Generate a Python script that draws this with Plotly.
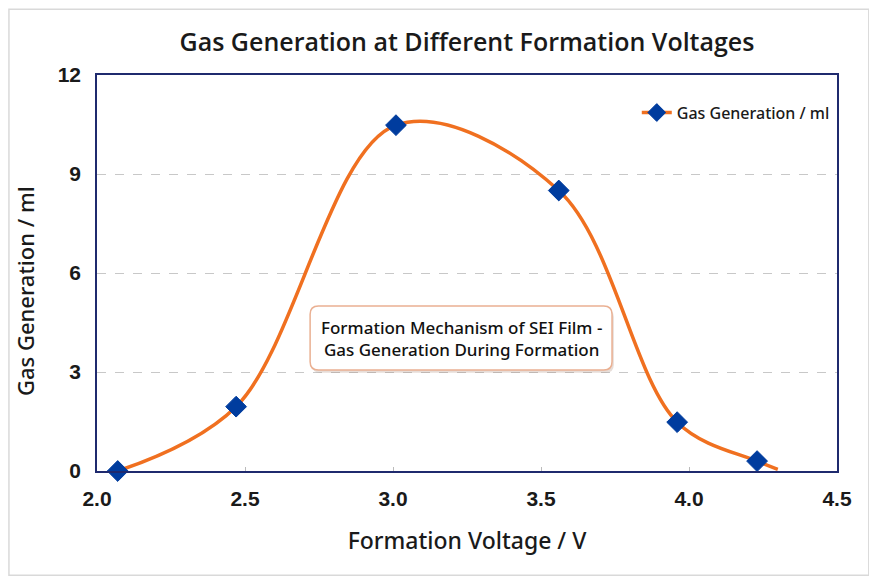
import plotly.graph_objects as go

# data
voltage = [2.07, 2.47, 3.01, 3.56, 3.96, 4.23, 4.30]
gas_ml = [0.0, 1.95, 10.48, 8.5, 1.48, 0.3, 0.05]
marker_sizes = [16, 16, 16, 16, 16, 16, 0]  # line tail has no marker

y_ticks = [0, 3, 6, 9, 12]
x_ticks = [2.0, 2.5, 3.0, 3.5, 4.0, 4.5]

orange = "#f07020"
blue = "#003c9e"
navy = "#1f2a6e"
sans = "Open Sans, Noto Sans, sans-serif"
noto = "Noto Sans, Open Sans, sans-serif"


def rounded_box(x0, y0, x1, y1, rx, ry):
    # svg path for a rectangle with rounded corners in data units
    return (f"M {x0+rx},{y0} L {x1-rx},{y0} Q {x1},{y0} {x1},{y0+ry} "
            f"L {x1},{y1-ry} Q {x1},{y1} {x1-rx},{y1} "
            f"L {x0+rx},{y1} Q {x0},{y1} {x0},{y1-ry} "
            f"L {x0},{y0+ry} Q {x0},{y0} {x0+rx},{y0} Z")


fig = go.Figure()

fig.add_trace(go.Scatter(
    x=voltage,
    y=gas_ml,
    mode="lines+markers",
    name="Gas Generation / ml",
    line=dict(color=orange, width=3.5, shape="spline", smoothing=1.0),
    marker=dict(symbol="diamond", size=marker_sizes, color=blue, opacity=1,
                line=dict(color=blue, width=1)),
    cliponaxis=False,
))

# page body adds an 8px margin, so the figure is sized 8px smaller
fig.update_layout(
    width=869, height=574,
    margin=dict(l=89, r=40, t=67, b=111),
    paper_bgcolor="white",
    plot_bgcolor="white",
    title=dict(
        text="Gas Generation at Different Formation Voltages",
        x=0.5, xref="paper", y=0.94, yanchor="middle",
        font=dict(family=sans, size=25, color="#1a1a1a", weight=600),
    ),
    xaxis=dict(
        range=[2.0, 4.5],
        tickvals=x_ticks,
        ticktext=["%.1f" % v for v in x_ticks],
        tickfont=dict(family="Liberation Sans, Arial", size=21, color="#1a1a1a", weight="bold"),
        ticklabelstandoff=8,
        showgrid=False,
        zeroline=False,
        showline=True, linecolor=navy, linewidth=1.5, mirror=True,
        ticks="inside", ticklen=4, tickcolor="#bbbbbb",
        title=dict(text="Formation Voltage / V", standoff=24,
                   font=dict(family=noto, size=23, color="#1a1a1a", weight=500)),
    ),
    yaxis=dict(
        range=[0, 12],
        tickvals=y_ticks,
        tickfont=dict(family="Liberation Sans, Arial", size=21, color="#1a1a1a", weight="bold"),
        showgrid=True, gridcolor="#c8c8c8", griddash="dash", gridwidth=1,
        zeroline=False,
        showline=True, linecolor=navy, linewidth=1.5, mirror=True,
        ticklabelstandoff=10,
    ),
    legend=dict(
        x=0.997, y=0.905, xanchor="right", yanchor="middle",
        bgcolor="rgba(0,0,0,0)",
        font=dict(family=noto, size=16, color="#1a1a1a", weight=500),
    ),
    showlegend=True,
)

# y axis title sits a little below the plot centre in the reference
fig.add_annotation(
    x=-0.097, y=0.455, xref="paper", yref="paper",
    text="Gas Generation / ml", textangle=-90,
    showarrow=False, xanchor="center", yanchor="middle",
    font=dict(family=noto, size=22, color="#1a1a1a", weight=500),
)

# callout box: soft shadow, rounded border, then the text
box = (2.72, 3.06, 3.74, 5.0)
fig.add_shape(type="path", xref="x", yref="y",
              path=rounded_box(box[0] + 0.006, box[1] - 0.08, box[2] + 0.006, box[3] - 0.08, 0.028, 0.25),
              line=dict(color="rgba(0,0,0,0)", width=0),
              fillcolor="rgba(160,120,100,0.25)", layer="above")
fig.add_shape(type="path", xref="x", yref="y",
              path=rounded_box(box[0], box[1], box[2], box[3], 0.028, 0.25),
              line=dict(color="#eab092", width=1.5),
              fillcolor="white", layer="above")
fig.add_annotation(
    x=(box[0] + box[2]) / 2, y=(box[1] + box[3]) / 2, xref="x", yref="y",
    text="Formation Mechanism of SEI Film -<br>Gas Generation During Formation",
    showarrow=False,
    font=dict(family=noto, size=17, color="#111111", weight=500),
)

# light card border around the whole picture
fig.add_shape(
    type="rect", xref="paper", yref="paper",
    x0=-0.119, x1=1.043, y0=-0.263, y1=1.166,
    line=dict(color="#d9d9d9", width=1.5),
    fillcolor="rgba(0,0,0,0)", layer="below",
)

fig.write_html("out.html")
